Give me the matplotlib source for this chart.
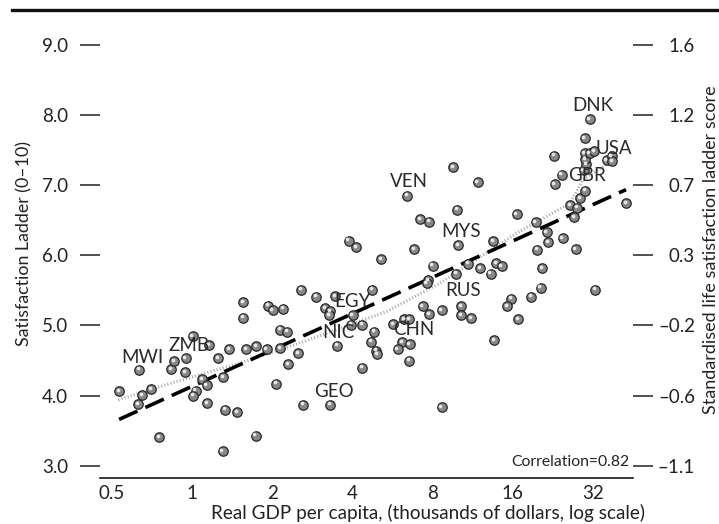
import numpy as np
import matplotlib
matplotlib.use("Agg")
import matplotlib.pyplot as plt
from matplotlib import transforms
from matplotlib.lines import Line2D

plt.rcParams['font.family'] = ['Lato', 'DejaVu Sans']

# GDP per capita (thousands of dollars) and satisfaction ladder, one entry per country
gdp = [0.533, 0.634, 0.649, 0.629, 0.702, 0.754, 0.836, 0.856, 0.947, 0.941,
       1.006, 1.160, 1.032, 1.011, 1.095, 1.135, 1.138, 1.252, 1.311, 1.304,
       1.333, 1.377, 1.475, 1.554, 1.554, 1.595, 1.739, 1.734, 1.929, 2.008,
       2.196, 1.907, 2.145, 2.283, 2.149, 2.299, 2.072, 2.506, 2.617, 2.576,
       2.920, 3.157, 3.296, 3.268, 3.451, 3.517, 3.296, 4.011, 3.970,
       4.356, 4.356, 3.874, 4.127, 4.738, 4.820, 4.710, 4.904, 4.969, 5.134,
       5.695, 6.258, 6.540, 6.151, 5.917, 6.558, 6.525, 6.440, 6.830, 7.175,
       7.776, 8.008, 7.706, 7.600, 7.344, 7.776, 8.652, 8.652, 9.566, 9.876,
       9.987, 9.793, 10.89, 11.81, 12.05, 13.22, 13.52, 13.87, 14.54, 10.27,
       10.27, 11.15, 13.60, 15.73, 15.22, 16.55, 16.74, 18.73, 20.37, 19.51,
       21.45, 21.69, 19.76, 20.65, 22.85, 24.42, 22.98, 24.63, 27.51, 32.56,
       26.23, 27.94, 27.11, 28.60, 29.86, 29.48, 30.12, 29.94, 29.74, 31.04,
       32.36, 29.74, 31.04, 36.03, 37.56, 37.82, 42.55]
ladder = [4.06, 4.37, 4.01, 3.88, 4.09, 3.41, 4.38, 4.49, 4.53, 4.33,
          4.85, 4.72, 4.07, 4.00, 4.23, 4.15, 3.89, 4.53, 4.26, 3.21,
          3.80, 4.66, 3.76, 5.33, 5.11, 4.66, 4.70, 3.43, 5.28, 5.22,
          5.24, 4.66, 4.94, 4.91, 4.68, 4.45, 4.17, 4.61, 3.87, 5.51,
          5.41, 5.25, 5.20, 5.15, 5.42, 4.71, 3.87, 5.15, 5.01,
          5.01, 4.40, 6.21, 6.12, 5.51, 4.91, 4.77, 4.64, 4.59, 5.94,
          5.02, 5.09, 5.09, 4.76, 4.66, 4.73, 4.50, 6.85, 6.09, 6.51,
          6.48, 5.85, 5.65, 5.60, 5.27, 5.16, 5.22, 3.84, 7.26, 6.65,
          6.14, 5.74, 5.88, 7.04, 5.82, 5.74, 6.20, 5.89, 5.84, 5.27,
          5.15, 5.10, 4.79, 5.38, 5.27, 6.59, 5.09, 5.41, 5.54, 6.47,
          6.33, 6.19, 6.08, 5.82, 7.42, 7.15, 7.01, 6.24, 6.09, 5.51,
          6.71, 6.68, 6.54, 6.81, 6.92, 7.21, 7.30, 7.37, 7.46, 7.46,
          7.48, 7.67, 7.94, 7.36, 7.41, 7.34, 6.74]

# smoothed (dotted) curve
smooth_gdp = [0.53, 0.76, 1.56, 2.77, 5.39, 8.51, 16.6, 26.2, 29.4, 38.1]
smooth_ladder = [3.94, 4.13, 4.48, 4.80, 5.20, 5.60, 6.32, 6.74, 7.08, 7.36]

# country labels
codes = ["DNK", "USA", "GBR", "VEN", "MYS", "RUS", "EGY", "NIC", "CHN", "GEO", "MWI", "ZMB"]
code_gdp = [31.9, 38.4, 30.5, 6.55, 10.23, 10.40, 4.02, 3.55, 6.81, 3.40, 0.652, 0.974]
code_ladder = [8.13, 7.52, 7.13, 7.05, 6.34, 5.50, 5.34, 4.90, 4.94, 4.06, 4.55, 4.71]

x_ticks = [0.5, 1, 2, 4, 8, 16, 32]
y_ticks = [3.0, 4.0, 5.0, 6.0, 7.0, 8.0, 9.0]
std_labels = ["\u20131.1", "\u20130.6", "\u20130.2", "0.3", "0.7", "1.2", "1.6"]
correlation = 0.82

fig = plt.figure(figsize=(7.19, 5.24), dpi=100)
ax = fig.add_axes([100 / 719, 1 - 478 / 524, 533 / 719, 448 / 524])
ax.set_xscale('log', base=2)
ax.set_xlim(0.452, 45.2)
ax.set_ylim(2.826, 9.21)

for side in ['top', 'right', 'left']:
    ax.spines[side].set_visible(False)
ax.spines['bottom'].set_linewidth(1.1)

lx = np.log2(gdp)
slope, icpt = np.polyfit(lx, ladder, 1)
fx = np.array([min(lx), max(lx)])
ax.plot(smooth_gdp, smooth_ladder, color='#a8a8a8', lw=2.2,
        dashes=(0.35, 0.7), zorder=2)
dash, = ax.plot(2 ** fx, icpt + slope * fx, color='black', lw=2.6, zorder=3)
dash.set_dashes([5.6, 2.4])

ax.scatter(gdp, ladder, s=46, c='#878787', edgecolors='#262626',
           linewidths=0.9, zorder=4)
hl = transforms.offset_copy(ax.transData, fig=fig, x=-1.3, y=1.3, units='dots')
ax.scatter(gdp, ladder, s=7, c='#e8e8e8', linewidths=0, transform=hl, zorder=5)

for name, gx, gy in zip(codes, code_gdp, code_ladder):
    ax.text(gx, gy, name, ha='center', va='center', fontsize=13.5,
            color='#2a2a2a', zorder=6)

ax.set_xticks(x_ticks, labels=[f"{v:g}" for v in x_ticks])
ax.minorticks_off()
ax.tick_params(axis='x', length=0, pad=5, labelsize=13.5, colors='#222222')
ax.set_yticks(y_ticks, labels=[f"{v:.1f}" for v in y_ticks])
ax.tick_params(axis='y', length=14.4, width=1.1, pad=8.6, labelsize=13.5,
               colors='#222222')

ax2 = ax.twinx()
ax2.set_ylim(ax.get_ylim())
for side in ax2.spines:
    ax2.spines[side].set_visible(False)
ax2.set_yticks(y_ticks, labels=std_labels)
ax2.tick_params(axis='y', length=14.4, width=1.1, pad=30.2, labelsize=13.5,
                colors='#222222')
for t in ax2.get_yticklabels():
    t.set_horizontalalignment('right')

ax.text(0.9925, 0.0357, f"Correlation={correlation}", transform=ax.transAxes,
        ha='right', va='center', fontsize=11.3, color='#222222')

fig.text(24 / 719, 1 - 243 / 524, "Satisfaction Ladder (0\u201310)", rotation=90,
         ha='center', va='center', fontsize=12.8, color='#222222')
fig.text(711 / 719, 1 - 250 / 524, "Standardised life satisfaction ladder score",
         rotation=90, ha='center', va='center', fontsize=13, color='#222222')
fig.text(428 / 719, 1 - 513 / 524,
         "Real GDP per capita, (thousands of dollars, log scale)",
         ha='center', va='center', fontsize=13.6, color='#222222')

fig.add_artist(Line2D([12 / 719, 1], [1 - 10 / 524, 1 - 10 / 524],
                      color='#111111', lw=2.4))

fig.savefig("out.png", dpi=100)
